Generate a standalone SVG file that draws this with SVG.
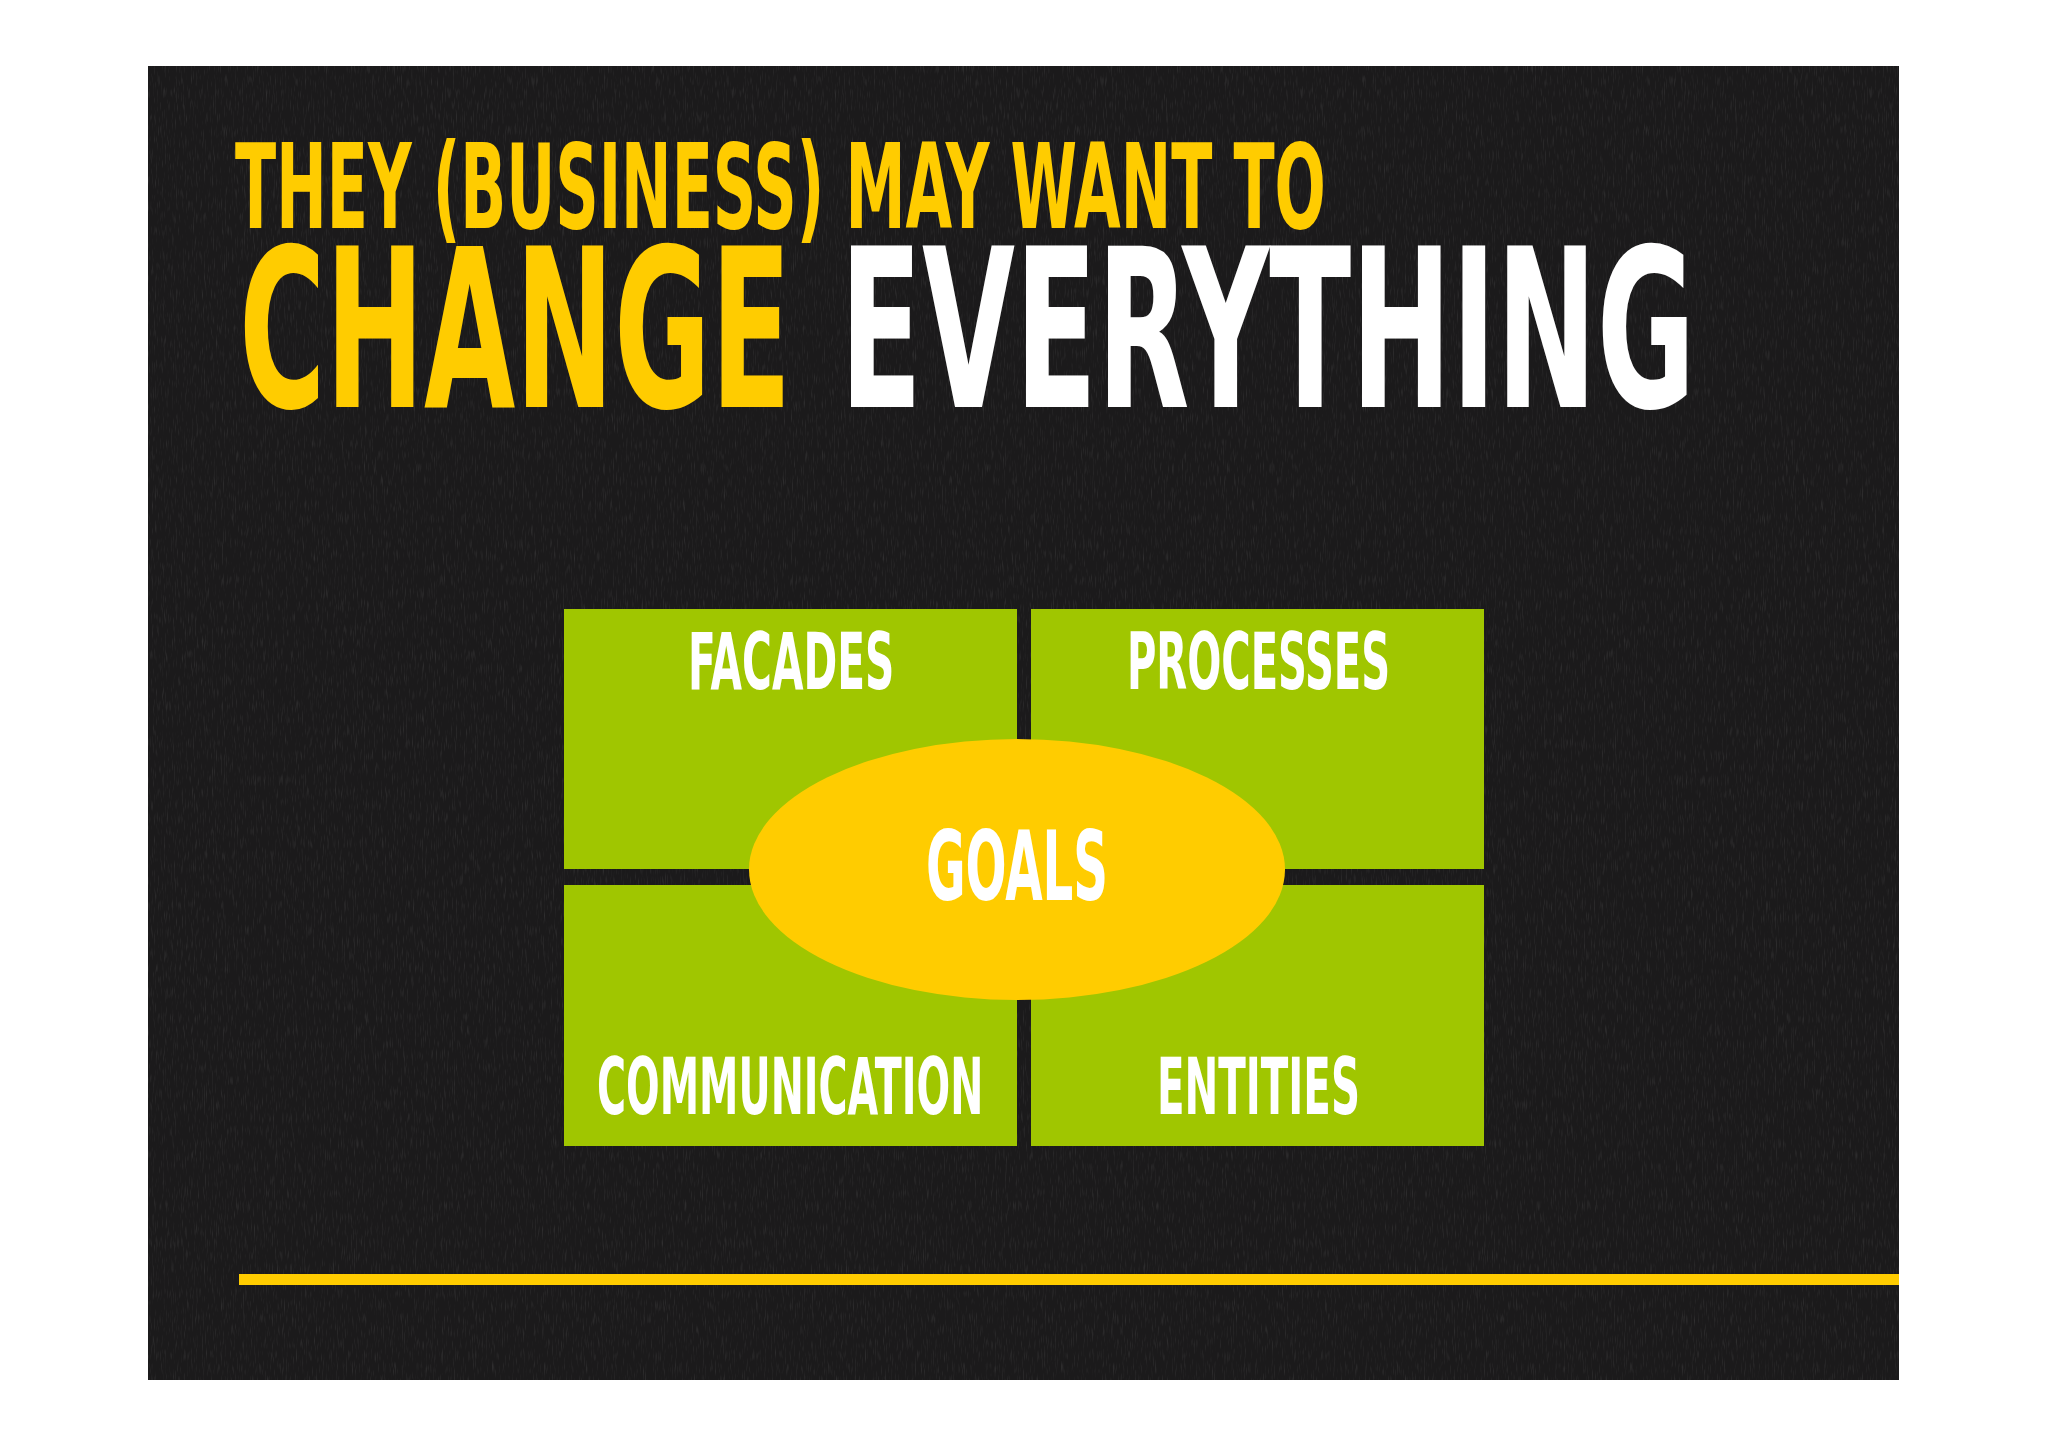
<svg xmlns="http://www.w3.org/2000/svg" width="2048" height="1447" viewBox="0 0 2048 1447">
<style>
.t{font-family:"DejaVu Sans Condensed","DejaVu Sans","Liberation Sans",sans-serif;font-weight:bold;}
.box{fill:#a0c600;}
.lbl{fill:#ffffff;font-size:78px;}
.y{fill:#ffcc00;}
.w{fill:#ffffff;}
</style>
<defs>
<filter id="grain" x="0" y="0" width="100%" height="100%">
<feTurbulence type="fractalNoise" baseFrequency="0.9 0.08" numOctaves="2" seed="3" result="n"/>
<feColorMatrix in="n" type="matrix" values="0 0 0 0 1  0 0 0 0 1  0 0 0 0 1  0 0 0 0.9 -0.48"/>
</filter>
</defs>
<rect x="0" y="0" width="2048" height="1447" fill="#ffffff"/>
<rect id="background" x="148" y="66" width="1751" height="1314" fill="#1b1a1b"/>
<rect x="148" y="66" width="1751" height="1314" filter="url(#grain)" opacity="0.25"/>
<g id="title">
<text class="t y" transform="translate(235,228) scale(0.567,1)" font-size="117" textLength="1924" lengthAdjust="spacingAndGlyphs">THEY (BUSINESS) MAY WANT TO</text>
<text class="t y" transform="translate(239,407) scale(0.59,1)" font-size="222" textLength="936" lengthAdjust="spacingAndGlyphs">CHANGE</text>
<text class="t w" transform="translate(840,407) scale(0.596,1)" font-size="222" textLength="1435" lengthAdjust="spacingAndGlyphs">EVERYTHING</text>
</g>
<g id="facades">
<rect class="box" x="564" y="609" width="453" height="260"/>
<text class="t lbl" transform="translate(688,689) scale(0.565,1)" textLength="365" lengthAdjust="spacingAndGlyphs">FACADES</text>
</g>
<g id="processes">
<rect class="box" x="1031" y="609" width="453" height="260"/>
<text class="t lbl" transform="translate(1127,689) scale(0.567,1)" textLength="464" lengthAdjust="spacingAndGlyphs">PROCESSES</text>
</g>
<g id="communication">
<rect class="box" x="564" y="885" width="453" height="261"/>
<text class="t lbl" transform="translate(597,1114) scale(0.559,1)" textLength="691" lengthAdjust="spacingAndGlyphs">COMMUNICATION</text>
</g>
<g id="entities">
<rect class="box" x="1031" y="885" width="453" height="261"/>
<text class="t lbl" transform="translate(1157,1114) scale(0.575,1)" textLength="353" lengthAdjust="spacingAndGlyphs">ENTITIES</text>
</g>
<g id="goals">
<ellipse cx="1017" cy="869.5" rx="268" ry="130.5" fill="#ffcc00"/>
<text class="t w" transform="translate(926,900) scale(0.555,1)" font-size="96" textLength="328" lengthAdjust="spacingAndGlyphs">GOALS</text>
</g>
<g id="connectors"></g>
<rect id="rule" x="239" y="1274" width="1660" height="11" fill="#ffcc00"/>
</svg>
